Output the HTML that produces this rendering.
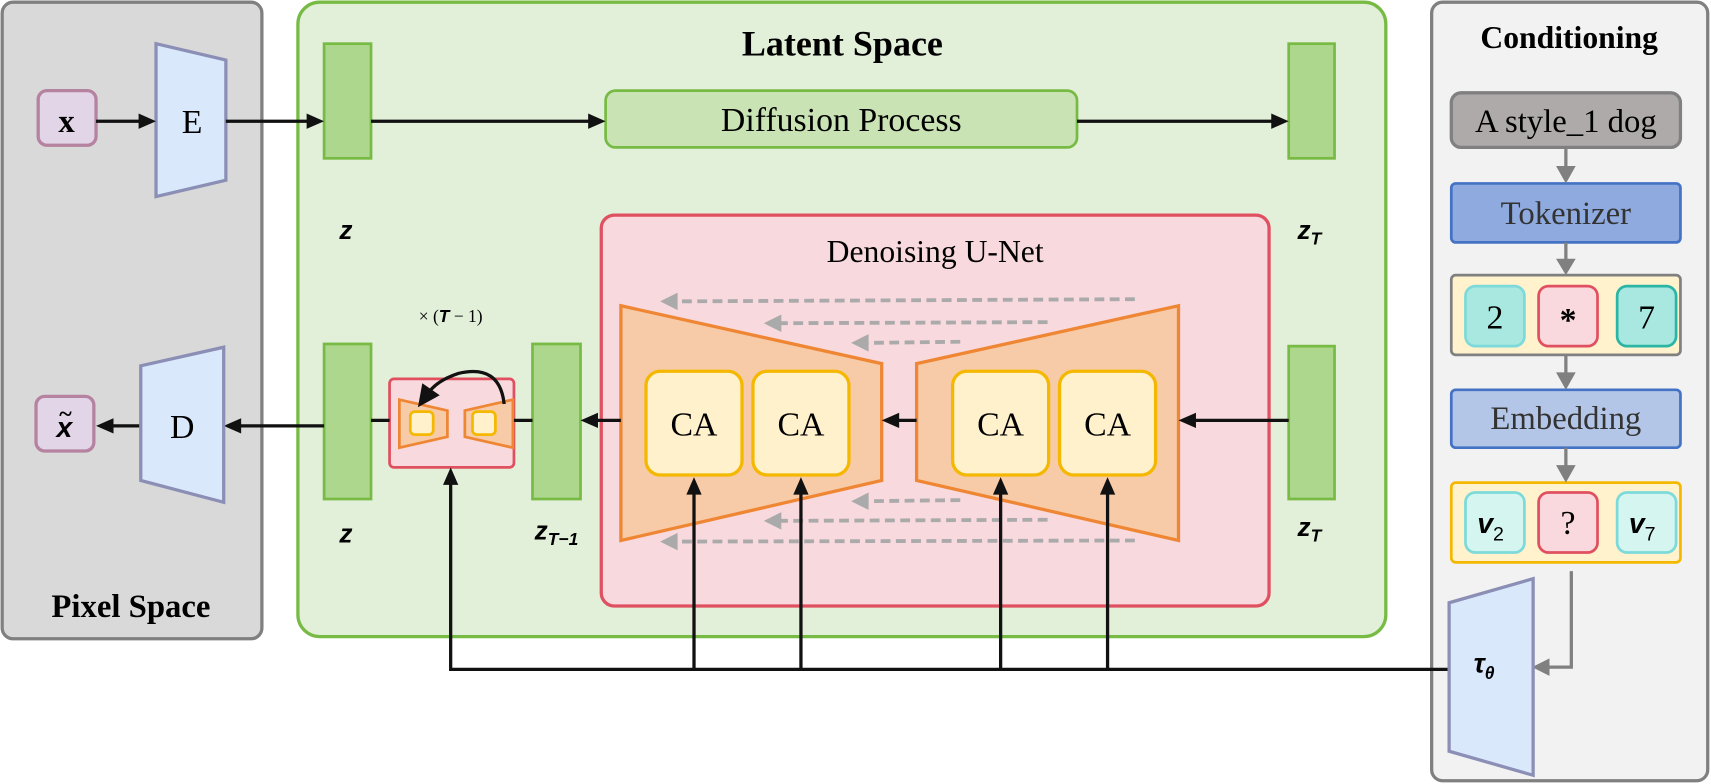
<!DOCTYPE html>
<html><head><meta charset="utf-8"><style>
html,body{margin:0;padding:0;background:#fff;width:1711px;height:784px;overflow:hidden}
svg{display:block}
.s{font-family:"Liberation Serif",serif}
.m{font-family:"Liberation Sans",sans-serif;font-style:italic;font-weight:bold}
</style></head><body>
<svg width="1711" height="784" viewBox="0 0 1568 718" preserveAspectRatio="none" xmlns="http://www.w3.org/2000/svg">
<!-- containers -->
<rect x="2" y="2" width="238" height="583" rx="10" fill="#d9d9d9" stroke="#808080" stroke-width="3"/>
<rect x="273" y="2" width="997" height="581" rx="20" fill="#e2efd9" stroke="#77bb44" stroke-width="3"/>
<rect x="1312" y="2" width="253" height="713" rx="10" fill="#f2f2f2" stroke="#808080" stroke-width="3"/>
<text x="772" y="51" class="s" font-size="33" font-weight="bold" text-anchor="middle">Latent Space</text>
<text x="120" y="565" class="s" font-size="30" font-weight="bold" text-anchor="middle">Pixel Space</text>
<text x="1438" y="44" class="s" font-size="29" font-weight="bold" text-anchor="middle">Conditioning</text>

<!-- top row -->
<rect x="35" y="83" width="53" height="50" rx="8" fill="#e1d5e7" stroke="#b5829f" stroke-width="3"/>
<text x="61" y="121" class="s" font-size="30" font-weight="bold" text-anchor="middle">x</text>
<polygon points="143,40 207,55 207,165 143,180" fill="#dae8fc" stroke="#8c8fb5" stroke-width="3"/>
<text x="176" y="122" class="s" font-size="31" text-anchor="middle">E</text>
<rect x="297" y="40" width="43" height="105" fill="#aed78e" stroke="#77bb44" stroke-width="2.5"/>
<text x="317" y="219" class="m" font-size="24" text-anchor="middle">z</text>
<rect x="555" y="83" width="432" height="52" rx="9" fill="#c9e3b5" stroke="#77bb44" stroke-width="2.5"/>
<text x="771" y="120" class="s" font-size="31" text-anchor="middle">Diffusion Process</text>
<rect x="1181" y="40" width="42" height="105" fill="#aed78e" stroke="#77bb44" stroke-width="2.5"/>
<text x="1200" y="219" class="m" font-size="24" text-anchor="middle">z<tspan font-size="16" dy="5">T</tspan></text>

<g stroke="#111" stroke-width="3" fill="none">
<line x1="88" y1="111" x2="128" y2="111"/>
<line x1="207" y1="111" x2="282" y2="111"/>
<line x1="340" y1="111" x2="540" y2="111"/>
<line x1="987" y1="111" x2="1166" y2="111"/>
</g>
<g fill="#111">
<polygon points="143,111 127,104 127,118"/>
<polygon points="297,111 281,104 281,118"/>
<polygon points="555,111 539,104 539,118"/>
<polygon points="1181,111 1165,104 1165,118"/>
</g>

<!-- U-Net -->
<rect x="551" y="197" width="612" height="358" rx="12" fill="#f8d9de" stroke="#e05060" stroke-width="3"/>
<text x="857" y="240" class="s" font-size="29" text-anchor="middle">Denoising U-Net</text>
<polygon points="569,280 808,333 808,440 569,495" fill="#f7cba8" stroke="#ef8633" stroke-width="3"/>
<polygon points="840,333 1080,280 1080,495 840,440" fill="#f7cba8" stroke="#ef8633" stroke-width="3"/>
<g fill="#fff1cc" stroke="#f5b800" stroke-width="3">
<rect x="592" y="340" width="88" height="95" rx="13"/>
<rect x="690" y="340" width="88" height="95" rx="13"/>
<rect x="873" y="340" width="88" height="95" rx="13"/>
<rect x="971" y="340" width="88" height="95" rx="13"/>
</g>
<g class="s" font-size="31" text-anchor="middle">
<text x="636" y="399">CA</text><text x="734" y="399">CA</text>
<text x="917" y="399">CA</text><text x="1015" y="399">CA</text>
</g>
<g stroke="#aaa" stroke-width="3.5" stroke-dasharray="9,5" fill="none">
<line x1="1040" y1="274" x2="620" y2="276"/>
<line x1="960" y1="295" x2="715" y2="296"/>
<line x1="880" y1="313" x2="795" y2="314"/>
<line x1="880" y1="458" x2="795" y2="459"/>
<line x1="960" y1="476" x2="715" y2="477"/>
<line x1="1040" y1="495" x2="620" y2="496"/>
</g>
<g fill="#aaa">
<polygon points="605,276 621,268 621,284"/>
<polygon points="700,296 716,288 716,304"/>
<polygon points="780,314 796,306 796,322"/>
<polygon points="780,459 796,451 796,467"/>
<polygon points="700,477 716,469 716,485"/>
<polygon points="605,496 621,488 621,504"/>
</g>

<!-- bottom row latent -->
<rect x="1181" y="317" width="42" height="140" fill="#aed78e" stroke="#77bb44" stroke-width="2.5"/>
<text x="1200" y="491" class="m" font-size="24" text-anchor="middle">z<tspan font-size="16" dy="5">T</tspan></text>
<rect x="488" y="315" width="44" height="142" fill="#aed78e" stroke="#77bb44" stroke-width="2.5"/>
<text x="510" y="494" class="m" font-size="24" text-anchor="middle">z<tspan font-size="16" dy="5">T−1</tspan></text>
<rect x="297" y="315" width="43" height="142" fill="#aed78e" stroke="#77bb44" stroke-width="2.5"/>
<text x="317" y="497" class="m" font-size="24" text-anchor="middle">z</text>

<rect x="357" y="347" width="114" height="81" rx="4" fill="#f8d9de" stroke="#e05060" stroke-width="2.5"/>
<polygon points="366,366 410,376 410,400 366,410" fill="#f7cba8" stroke="#ef8633" stroke-width="2.5"/>
<polygon points="426,376 470,366 470,410 426,400" fill="#f7cba8" stroke="#ef8633" stroke-width="2.5"/>
<rect x="376" y="377" width="21" height="21" rx="4" fill="#fff1cc" stroke="#f5b800" stroke-width="2.5"/>
<rect x="433" y="377" width="21" height="21" rx="4" fill="#fff1cc" stroke="#f5b800" stroke-width="2.5"/>
<text x="413" y="295" class="s" font-size="16" text-anchor="middle">× (<tspan class="m">T</tspan> − 1)</text>
<path d="M462,370 Q458,333 420,342 Q402,348 394,358" stroke="#111" stroke-width="3" fill="none"/>
<polygon points="383,373 387,351 403,362" fill="#111"/>

<g stroke="#111" stroke-width="3" fill="none">
<line x1="1181" y1="385" x2="1095" y2="385"/>
<line x1="840" y1="385" x2="823" y2="385"/>
<line x1="569" y1="385" x2="547" y2="385"/>
<line x1="471" y1="385" x2="488" y2="385"/>
<line x1="340" y1="385" x2="357" y2="385"/>
<line x1="297" y1="390" x2="220" y2="390"/>
<line x1="129" y1="390" x2="103" y2="390"/>
<polyline points="413,443 413,613 1328,613"/>
<line x1="636" y1="613" x2="636" y2="452"/>
<line x1="734" y1="613" x2="734" y2="452"/>
<line x1="917" y1="613" x2="917" y2="452"/>
<line x1="1015" y1="613" x2="1015" y2="452"/>
</g>
<g fill="#111">
<polygon points="1080,385 1096,378 1096,392"/>
<polygon points="808,385 824,378 824,392"/>
<polygon points="532,385 548,378 548,392"/>
<polygon points="205,390 221,383 221,397"/>
<polygon points="88,390 104,383 104,397"/>
<polygon points="413,428 406,444 420,444"/>
<polygon points="636,437 629,453 643,453"/>
<polygon points="734,437 727,453 741,453"/>
<polygon points="917,437 910,453 924,453"/>
<polygon points="1015,437 1008,453 1022,453"/>
</g>

<!-- decoder -->
<polygon points="129,335 205,318 205,460 129,440" fill="#dae8fc" stroke="#8c8fb5" stroke-width="3"/>
<text x="167" y="401" class="s" font-size="31" text-anchor="middle">D</text>
<rect x="33" y="363" width="53" height="50" rx="8" fill="#e1d5e7" stroke="#b5829f" stroke-width="3"/>
<text x="59" y="400" class="m" font-size="26" text-anchor="middle">x</text>
<text x="60" y="386" class="s" font-size="22" font-weight="bold" text-anchor="middle">~</text>

<!-- conditioning -->
<rect x="1330" y="85" width="210" height="50" rx="9" fill="#aeaaaa" stroke="#808080" stroke-width="3"/>
<text x="1435" y="121" class="s" font-size="30" text-anchor="middle">A style_1 dog</text>
<rect x="1330" y="168" width="210" height="54" rx="4" fill="#8eaadf" stroke="#4472c4" stroke-width="2.5"/>
<text x="1435" y="205" class="s" font-size="30" fill="#333" text-anchor="middle">Tokenizer</text>
<rect x="1330" y="252" width="210" height="73" rx="4" fill="#fff2cc" stroke="#808080" stroke-width="2.5"/>
<rect x="1343" y="262" width="54" height="55" rx="9" fill="#a8e8e0" stroke="#7ddada" stroke-width="2.5"/>
<rect x="1410" y="262" width="54" height="55" rx="9" fill="#fad9de" stroke="#e05060" stroke-width="2.5"/>
<rect x="1482" y="262" width="54" height="55" rx="9" fill="#a8e8e0" stroke="#2ab5a5" stroke-width="2.5"/>
<text x="1370" y="301" class="s" font-size="31" text-anchor="middle">2</text>
<text x="1437" y="303" class="s" font-size="31" font-weight="bold" text-anchor="middle">*</text>
<text x="1509" y="301" class="s" font-size="31" text-anchor="middle">7</text>
<rect x="1330" y="357" width="210" height="53" rx="4" fill="#b4c6e7" stroke="#4472c4" stroke-width="2.5"/>
<text x="1435" y="393" class="s" font-size="30" fill="#333" text-anchor="middle">Embedding</text>
<rect x="1330" y="442" width="210" height="73" rx="4" fill="#fff2cc" stroke="#f5b800" stroke-width="2.5"/>
<rect x="1343" y="451" width="54" height="55" rx="9" fill="#d5f5f0" stroke="#7ddada" stroke-width="2.5"/>
<rect x="1410" y="451" width="54" height="55" rx="9" fill="#fad9de" stroke="#e05060" stroke-width="2.5"/>
<rect x="1482" y="451" width="54" height="55" rx="9" fill="#d5f5f0" stroke="#7ddada" stroke-width="2.5"/>
<text x="1366" y="488" class="m" font-size="26" text-anchor="middle">v<tspan font-size="18" dy="7" font-style="normal" font-weight="normal">2</tspan></text>
<text x="1437" y="489" class="s" font-size="31" text-anchor="middle">?</text>
<text x="1505" y="488" class="m" font-size="26" text-anchor="middle">v<tspan font-size="18" dy="7" font-style="normal" font-weight="normal">7</tspan></text>
<g stroke="#808080" stroke-width="3" fill="none">
<line x1="1435" y1="135" x2="1435" y2="155"/>
<line x1="1435" y1="222" x2="1435" y2="240"/>
<line x1="1435" y1="325" x2="1435" y2="343"/>
<line x1="1435" y1="410" x2="1435" y2="428"/>
<polyline points="1440,523 1440,611 1418,611"/>
</g>
<g fill="#808080">
<polygon points="1435,168 1426,152 1444,152"/>
<polygon points="1435,252 1426,237 1444,237"/>
<polygon points="1435,357 1426,341 1444,341"/>
<polygon points="1435,442 1426,426 1444,426"/>
<polygon points="1404,611 1420,603 1420,619"/>
</g>
<polygon points="1328,552 1405,530 1405,710 1328,688" fill="#dae8fc" stroke="#8c8fb5" stroke-width="3"/>
<text x="1360" y="616" class="m" font-size="25" text-anchor="middle">τ<tspan font-size="16" dy="6">θ</tspan></text>
</svg>
</body></html>
